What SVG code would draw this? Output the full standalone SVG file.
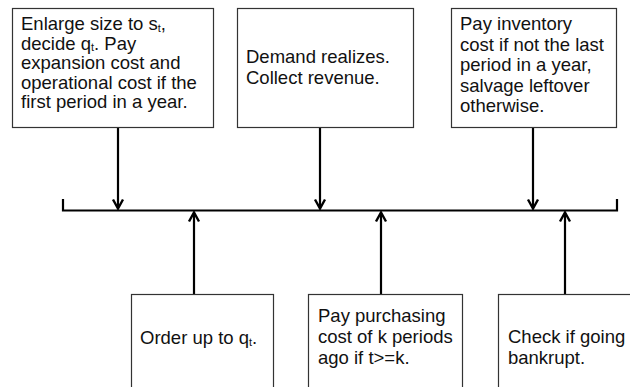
<svg xmlns="http://www.w3.org/2000/svg" width="630" height="387" viewBox="0 0 630 387">
  <style>
    .box { fill: #ffffff; stroke: #333333; stroke-width: 1.2; }
    .lbl { font-family: "Liberation Sans", Arial, sans-serif; font-size: 18.5px; fill: #111111; }
    .sub { font-size: 11px; }
    .wire { fill: none; stroke: #000000; stroke-width: 2.2; }
    .head { fill: none; stroke: #000000; stroke-width: 2.4; stroke-linejoin: miter; }
  </style>
  <rect width="630" height="387" fill="#ffffff"/>

  <!-- timeline and event connectors -->
  <g id="connectors">
    <path class="wire" d="M63,199 V210.5 H617 V199"/>
    <!-- events above the timeline -->
    <line class="wire" x1="118" y1="128" x2="118" y2="208"/>
    <path class="head" d="M113,199.5 L118,208.5 L123,199.5"/>
    <line class="wire" x1="320" y1="128" x2="320" y2="208"/>
    <path class="head" d="M315,199.5 L320,208.5 L325,199.5"/>
    <line class="wire" x1="533" y1="128" x2="533" y2="208"/>
    <path class="head" d="M528,199.5 L533,208.5 L538,199.5"/>
    <!-- events below the timeline -->
    <line class="wire" x1="194" y1="294" x2="194" y2="213"/>
    <path class="head" d="M189,221.5 L194,212.5 L199,221.5"/>
    <line class="wire" x1="381" y1="294" x2="381" y2="213"/>
    <path class="head" d="M376,221.5 L381,212.5 L386,221.5"/>
    <line class="wire" x1="565" y1="294" x2="565" y2="213"/>
    <path class="head" d="M560,221.5 L565,212.5 L570,221.5"/>
  </g>

  <g id="enlarge">
    <rect class="box" x="12.5" y="8.5" width="201" height="119"/>
    <text class="lbl" x="21" y="30">Enlarge size to s<tspan class="sub" dy="1.5">t</tspan><tspan dy="-1.5">,</tspan></text>
    <text class="lbl" x="21" y="49.5">decide q<tspan class="sub" dy="1.5">t</tspan><tspan dy="-1.5">. Pay</tspan></text>
    <text class="lbl" x="21" y="69">expansion cost and</text>
    <text class="lbl" x="21" y="88.5">operational cost if the</text>
    <text class="lbl" x="21" y="108">first period in a year.</text>
  </g>

  <g id="demand">
    <rect class="box" x="237.5" y="8.5" width="176" height="119"/>
    <text class="lbl" x="246" y="63">Demand realizes.</text>
    <text class="lbl" x="246" y="84">Collect revenue.</text>
  </g>

  <g id="inventory">
    <rect class="box" x="451.5" y="8.5" width="165" height="119"/>
    <text class="lbl" x="460" y="30">Pay inventory</text>
    <text class="lbl" x="460" y="50.5">cost if not the last</text>
    <text class="lbl" x="460" y="71">period in a year,</text>
    <text class="lbl" x="460" y="91.5">salvage leftover</text>
    <text class="lbl" x="460" y="112">otherwise.</text>
  </g>

  <g id="order">
    <rect class="box" x="131.5" y="294.5" width="142" height="100"/>
    <text class="lbl" x="140" y="344">Order up to q<tspan class="sub" dy="1.5">t</tspan><tspan dy="-1.5">.</tspan></text>
  </g>

  <g id="purchasing">
    <rect class="box" x="308.5" y="294.5" width="154" height="100"/>
    <text class="lbl" x="318" y="322">Pay purchasing</text>
    <text class="lbl" x="318" y="343">cost of k periods</text>
    <text class="lbl" x="318" y="364">ago if t&gt;=k.</text>
  </g>

  <g id="bankrupt">
    <rect class="box" x="498.5" y="294.5" width="150" height="100"/>
    <text class="lbl" x="508" y="343">Check if going</text>
    <text class="lbl" x="508" y="364">bankrupt.</text>
  </g>
</svg>
